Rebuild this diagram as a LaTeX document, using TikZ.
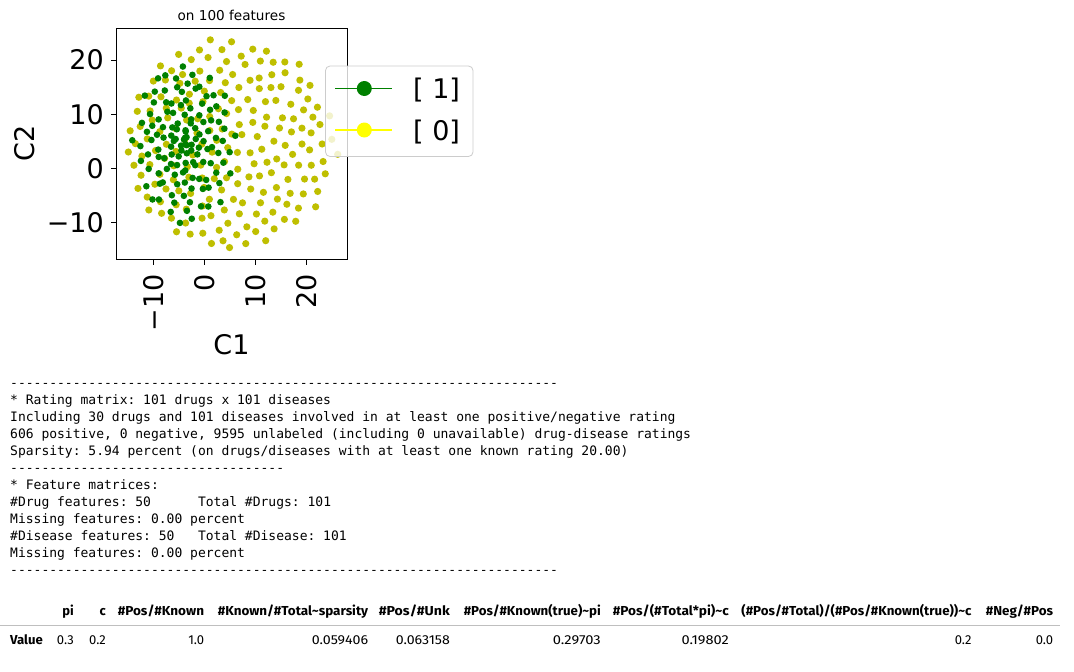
\documentclass[tikz,border=0pt]{standalone}
\usepackage{fontspec}
\usepackage{graphicx}
\setmainfont{DejaVu Sans}
\newfontfamily\monof{DejaVu Sans Mono}
\newfontfamily\tabf{Fira Sans}
\definecolor{mplgreen}{rgb}{0,0.5,0}
\definecolor{mplolive}{rgb}{0.75,0.75,0}
\definecolor{mplyellow}{rgb}{1,1,0}
\newcommand\mydashes[1]{\foreach \i in {1,...,#1}{\hbox{-}}}
\newcommand\fitw[2]{\resizebox{#1pt}{\height}{#2}}
\frenchspacing
\begin{document}
\begin{tikzpicture}[x=1pt,y=-1pt,
  big/.style={font=\fontsize{27}{32}\selectfont, inner sep=0pt},
  monoline/.style={font=\monof\fontsize{13}{17}\selectfont, anchor=base west, inner sep=0pt},
  hdr/.style={font=\tabf\bfseries\fontsize{13}{15}\selectfont, anchor=base east, inner sep=0pt},
  val/.style={font=\tabf\fontsize{13}{15}\selectfont, anchor=base east, inner sep=0pt},
  tick/.style={line width=0.8pt, black},
  ydot/.style={fill=mplolive},
  gdot/.style={fill=mplgreen}]
\useasboundingbox (0,0) rectangle (1074,672);
\fill[white] (0,0) rectangle (1074,672);

% ---------- scatter ----------
\pgfmathsetseed{11}
\begin{scope}
\clip (116,28) rectangle (347,259);
\foreach \k in {1,...,200} {
  \pgfmathsetmacro\myr{106*sqrt((\k-0.5)/200)}
  \pgfmathsetmacro\mya{360*mod(\k*0.381966,1)}
  \pgfmathsetmacro\myx{230+\myr*cos(\mya)+2.5*rand}
  \pgfmathsetmacro\myy{144+\myr*sin(\mya)+2.5*rand}
  \fill[ydot] (\myx,\myy) circle (3.6);
}
\foreach \k in {1,...,130} {
  \pgfmathsetmacro\myr{exp(0.78*ln((\k-0.5)/130))}
  \pgfmathsetmacro\mya{360*mod(\k*0.381966,1)}
  \pgfmathsetmacro\myx{185+52*\myr*cos(\mya)+3*rand}
  \pgfmathsetmacro\myy{143+80*\myr*sin(\mya)+3*rand}
  \fill[gdot] (\myx,\myy) circle (3.3);
}
\end{scope}

% ---------- axes ----------
\draw[line width=0.8pt] (116,28) rectangle (347,259);
\foreach \xv/\lab/\nm in {153.3/−10/a,204.3/0/b,255.3/10/c,306.3/20/d} {
  \draw[tick] (\xv,259) -- (\xv,264.5);
  \node[big, rotate=90, anchor=east] (xt\nm) at (\xv,274) {\lab};
}
\foreach \yv/\lab/\nm in {60/20/a,114.3/10/b,168.3/0/c,222.7/−10/d} {
  \draw[tick] (116,\yv) -- (110.5,\yv);
  \node[big, anchor=east] (yt\nm) at (104,\yv) {\lab};
}
\node[big, rotate=90] (ylab) at (25,143.5) {C2};
\node[big] (xlab) at (231.5,345) {C1};
\node[font=\fontsize{13.6}{16}\selectfont, inner sep=0pt] (title) at (231.5,15) {on 100 features};

% ---------- legend ----------
\draw[draw=black!20, fill=white, fill opacity=0.8, rounded corners=4.5pt, line width=0.8pt] (325.5,66) rectangle (473,156.5);
\draw[mplgreen, line width=1.6pt] (335,88.5) -- (391.7,88.5);
\fill[mplgreen] (364.3,88.5) circle (7.5);
\draw[mplyellow, line width=1.6pt] (335,130) -- (391.7,130);
\fill[mplyellow] (364.3,130) circle (7.5);
\node[big, anchor=base west] (l1) at (413,98.5) {[ 1]};
\node[big, anchor=base west] (l0) at (413,140) {[ 0]};

% ---------- console text ----------
\node[monoline] (t1) at (10,387) {\mydashes{70}};
\node[monoline] (t2) at (10,404) {* Rating matrix: 101 drugs x 101 diseases};
\node[monoline] (t3) at (10,421) {Including 30 drugs and 101 diseases involved in at least one positive/negative rating};
\node[monoline] (t4) at (10,438) {606 positive, 0 negative, 9595 unlabeled (including 0 unavailable) drug\hbox{-}disease ratings};
\node[monoline] (t5) at (10,455) {Sparsity: 5.94 percent (on drugs/diseases with at least one known rating 20.00)};
\node[monoline] (t6) at (10,472) {\mydashes{35}};
\node[monoline] (t7) at (10,489) {* Feature matrices:};
\node[monoline] (t8) at (10,506) {\#Drug features: 50\phantom{xxxxxx}Total \#Drugs: 101};
\node[monoline] (t9) at (10,523) {Missing features: 0.00 percent};
\node[monoline] (t10) at (10,540) {\#Disease features: 50\phantom{xxx}Total \#Disease: 101};
\node[monoline] (t11) at (10,557) {Missing features: 0.00 percent};
\node[monoline] (t12) at (10,574) {\mydashes{70}};

% ---------- table ----------
\node[hdr] (hpi) at (74,615) {pi};
\node[hdr] (hc) at (106,615) {c};
\node[hdr] (h1) at (204.3,615) {\fitw{86.3}{\#Pos/\#Known}};
\node[hdr] (h2) at (368.3,615) {\fitw{150.3}{\#Known/\#Total\textasciitilde sparsity}};
\node[hdr] (h3) at (450,615) {\fitw{71}{\#Pos/\#Unk}};
\node[hdr] (h4) at (601,615) {\fitw{137}{\#Pos/\#Known(true)\textasciitilde pi}};
\node[hdr] (h5) at (729,615) {\fitw{116}{\#Pos/(\#Total*pi)\textasciitilde c}};
\node[hdr] (h6) at (971.7,615) {\fitw{230}{(\#Pos/\#Total)/(\#Pos/\#Known(true))\textasciitilde c}};
\node[hdr] (h7) at (1053.3,615) {\fitw{67.3}{\#Neg/\#Pos}};
\draw[black!25, line width=1pt] (0,625) -- (1060,625);
\node[hdr, anchor=base west] (rowlab) at (10,644.5) {\fitw{32.7}{Value}};
\node[val] (vpi) at (74,644.5) {0.3};
\node[val] (vc) at (106,644.5) {0.2};
\node[val] (v1) at (204.3,644.5) {1.0};
\node[val] (v2) at (368.3,644.5) {\fitw{56.3}{0.059406}};
\node[val] (v3) at (450,644.5) {\fitw{54}{0.063158}};
\node[val] (v4) at (601,644.5) {\fitw{48}{0.29703}};
\node[val] (v5) at (729,644.5) {\fitw{47.3}{0.19802}};
\node[val] (v6) at (971.7,644.5) {0.2};
\node[val] (v7) at (1053.3,644.5) {0.0};
\end{tikzpicture}
\end{document}
